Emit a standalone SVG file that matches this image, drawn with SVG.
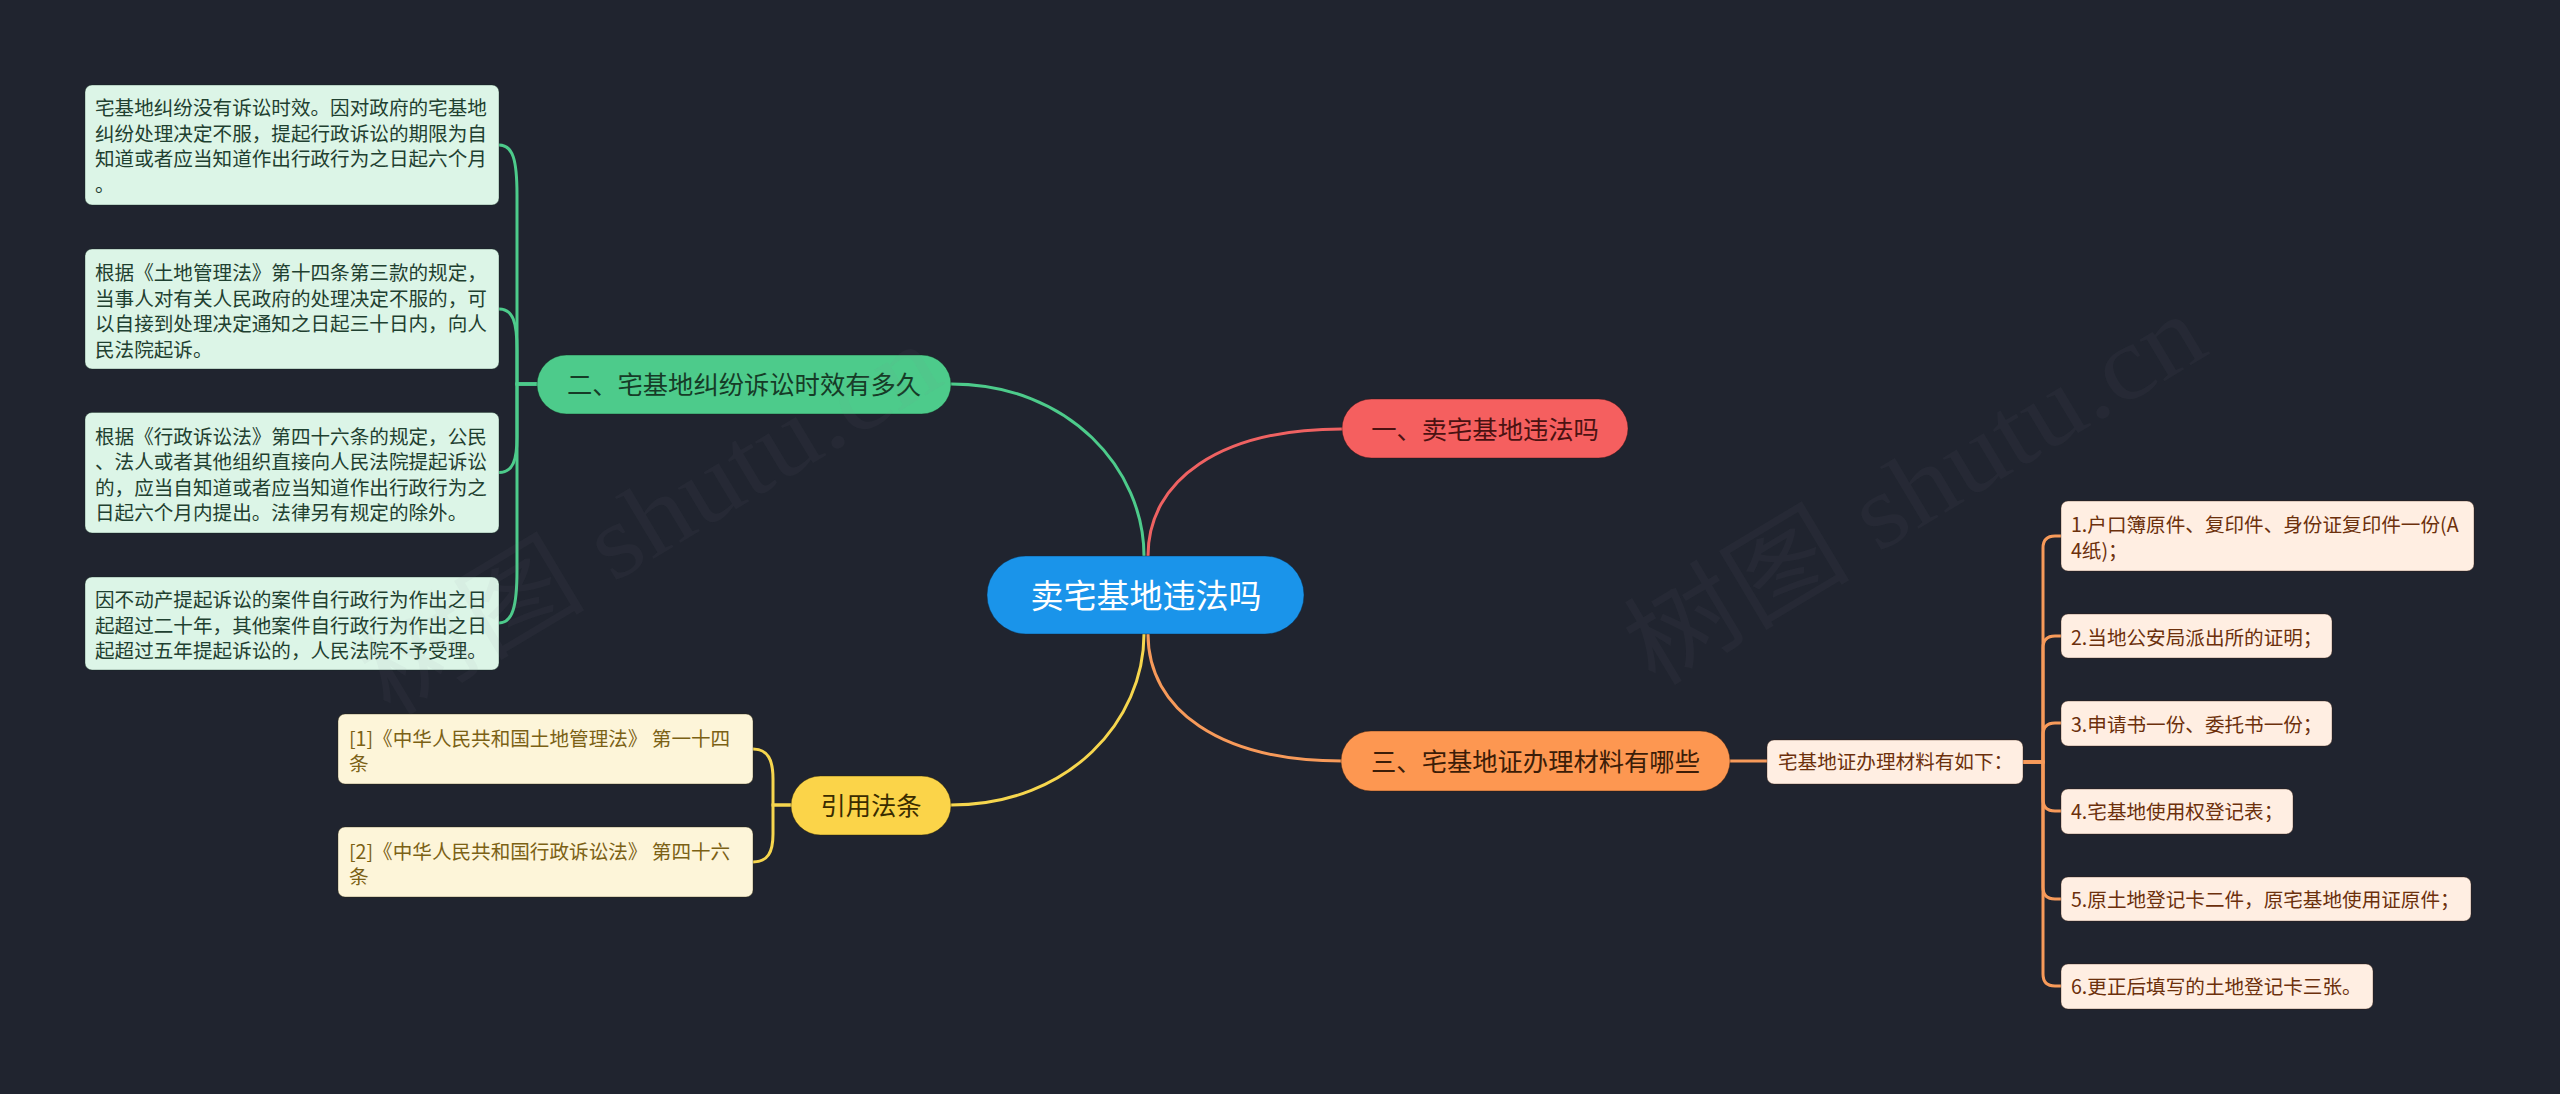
<svg xmlns="http://www.w3.org/2000/svg" width="2560" height="1094" viewBox="0 0 2560 1094">
<defs>
<style>
text{font-family:"Noto Sans CJK SC","Noto Sans",sans-serif;}
.wm{font-family:"Liberation Serif","Noto Sans CJK SC",serif;font-size:105px;fill:#8a8f9c;fill-opacity:0.06;}
.lf{font-size:19.6px;}
.gl rect{fill:#dcf5e7;stroke:#0f2a1c;stroke-opacity:0.35;stroke-width:1;}
.gl text{fill:#1f4030;}
.yl rect{fill:#fdf5d9;stroke:#2a2200;stroke-opacity:0.35;stroke-width:1;}
.yl text{fill:#7b6115;}
.ol rect{fill:#ffeee2;stroke:#3a1a05;stroke-opacity:0.35;stroke-width:1;}
.ol text{fill:#6c300c;}
.mn{font-size:25.3px;text-anchor:middle;}
.c path{fill:none;stroke-width:3;stroke-linecap:round;}
.cg{stroke:#4dcb8b;}
.cr{stroke:#ef6262;}
.cy{stroke:#f6d64e;}
.co{stroke:#f79a5a;}
</style>
</defs>
<rect x="0" y="0" width="2560" height="1094" fill="#20242f"/>

<g id="connectors" class="c">
<path class="cg" d="M1144 556 C1144 470 1070 384 951 384"/>
<path class="cr" d="M1148 556 C1148 480 1220 429 1342 429"/>
<path class="cy" d="M1144 634 C1144 720 1070 805 951 805"/>
<path class="co" d="M1148 634 C1148 710 1220 761 1342 761"/>
<path class="cg" d="M537 384 H517 V195 C517 160 513 145 499 145"/>
<path class="cg" d="M537 384 H517 V350 C517 322 513 309 499 309"/>
<path class="cg" d="M537 384 H517 V437 C517 460 513 472.5 499 472.5"/>
<path class="cg" d="M537 384 H517 V570 C517 605 513 623 499 623"/>
<path class="cy" d="M791 805 H773 V779 C773 760 768 749 753 749"/>
<path class="cy" d="M791 805 H773 V834 C773 852 768 862 753 862"/>
<path class="co" d="M1730 761 H1767"/>
<path class="co" d="M2023 762 H2043 V548 Q2043 536 2055 536 H2061"/>
<path class="co" d="M2023 762 H2043 V648 Q2043 636 2055 636 H2061"/>
<path class="co" d="M2023 762 H2043 V735 Q2043 723 2055 723 H2061"/>
<path class="co" d="M2023 762 H2043 V799 Q2043 811 2055 811 H2061"/>
<path class="co" d="M2023 762 H2043 V887 Q2043 899 2055 899 H2061"/>
<path class="co" d="M2023 762 H2043 V974 Q2043 986 2055 986 H2061"/>
</g>

<g id="root">
<rect x="987" y="556" width="317" height="78" rx="39" fill="#1a94ea" stroke="#0a2a45" stroke-opacity="0.4" stroke-width="1"/>
<text x="1146" y="607.5" font-size="33px" text-anchor="middle" fill="#ffffff">卖宅基地违法吗</text>
</g>

<g id="n1">
<rect x="1342" y="399" width="286" height="59" rx="29.5" fill="#f55f5f" stroke="#3a0f0f" stroke-opacity="0.4" stroke-width="1"/>
<text class="mn" x="1485" y="438.6" fill="#4b1212">一、卖宅基地违法吗</text>
</g>

<g id="n2">
<rect x="537" y="355" width="414" height="59" rx="29.5" fill="#4dcb8b" stroke="#0f2a1c" stroke-opacity="0.4" stroke-width="1"/>
<text class="mn" x="744" y="394" fill="#163b27">二、宅基地纠纷诉讼时效有多久</text>
</g>

<g id="n3">
<rect x="1341" y="731" width="389" height="60" rx="30" fill="#fd9751" stroke="#3a1a05" stroke-opacity="0.4" stroke-width="1"/>
<text class="mn" x="1535.5" y="770.6" fill="#3c1d08">三、宅基地证办理材料有哪些</text>
</g>

<g id="n4">
<rect x="791" y="776" width="160" height="59" rx="29.5" fill="#fbd449" stroke="#2a2200" stroke-opacity="0.4" stroke-width="1"/>
<text class="mn" x="871" y="815" fill="#3a2c00">引用法条</text>
</g>

<g id="g1" class="gl">
<rect x="85" y="85" width="414" height="120" rx="7"/>
<text class="lf" x="95" y="115">宅基地纠纷没有诉讼时效。因对政府的宅基地</text>
<text class="lf" x="95" y="140.5">纠纷处理决定不服，提起行政诉讼的期限为自</text>
<text class="lf" x="95" y="166">知道或者应当知道作出行政行为之日起六个月</text>
<text class="lf" x="95" y="191.5">。</text>
</g>
<g id="g2" class="gl">
<rect x="85" y="249" width="414" height="120" rx="7"/>
<text class="lf" x="95" y="280">根据《土地管理法》第十四条第三款的规定，</text>
<text class="lf" x="95" y="305.5">当事人对有关人民政府的处理决定不服的，可</text>
<text class="lf" x="95" y="331">以自接到处理决定通知之日起三十日内，向人</text>
<text class="lf" x="95" y="356.5">民法院起诉。</text>
</g>
<g id="g3" class="gl">
<rect x="85" y="412.5" width="414" height="120.5" rx="7"/>
<text class="lf" x="95" y="443.6">根据《行政诉讼法》第四十六条的规定，公民</text>
<text class="lf" x="95" y="469">、法人或者其他组织直接向人民法院提起诉讼</text>
<text class="lf" x="95" y="494.5">的，应当自知道或者应当知道作出行政行为之</text>
<text class="lf" x="95" y="520">日起六个月内提出。法律另有规定的除外。</text>
</g>
<g id="g4" class="gl">
<rect x="85" y="577" width="414" height="93" rx="7"/>
<text class="lf" x="95" y="607">因不动产提起诉讼的案件自行政行为作出之日</text>
<text class="lf" x="95" y="632.5">起超过二十年，其他案件自行政行为作出之日</text>
<text class="lf" x="95" y="658">起超过五年提起诉讼的，人民法院不予受理。</text>
</g>

<g id="y1" class="yl">
<rect x="338" y="714" width="415" height="70" rx="7"/>
<text class="lf" x="349" y="746">[1]《中华人民共和国土地管理法》 第一十四</text>
<text class="lf" x="349" y="771">条</text>
</g>
<g id="y2" class="yl">
<rect x="338" y="827" width="415" height="70" rx="7"/>
<text class="lf" x="349" y="859">[2]《中华人民共和国行政诉讼法》 第四十六</text>
<text class="lf" x="349" y="884">条</text>
</g>

<g id="o0" class="ol">
<rect x="1767" y="740" width="256" height="44" rx="7"/>
<text class="lf" x="1778" y="769">宅基地证办理材料有如下：</text>
</g>
<g id="o1" class="ol">
<rect x="2061" y="501" width="413" height="70" rx="7"/>
<text class="lf" x="2071" y="532">1.户口簿原件、复印件、身份证复印件一份(A</text>
<text class="lf" x="2071" y="558">4纸)；</text>
</g>
<g id="o2" class="ol">
<rect x="2061" y="614" width="271" height="44" rx="7"/>
<text class="lf" x="2071" y="645">2.当地公安局派出所的证明；</text>
</g>
<g id="o3" class="ol">
<rect x="2061" y="701" width="271" height="45" rx="7"/>
<text class="lf" x="2071" y="732">3.申请书一份、委托书一份；</text>
</g>
<g id="o4" class="ol">
<rect x="2061" y="789" width="232" height="45" rx="7"/>
<text class="lf" x="2071" y="819">4.宅基地使用权登记表；</text>
</g>
<g id="o5" class="ol">
<rect x="2061" y="877" width="410" height="44" rx="7"/>
<text class="lf" x="2071" y="907">5.原土地登记卡二件，原宅基地使用证原件；</text>
</g>
<g id="o6" class="ol">
<rect x="2061" y="964" width="312" height="45" rx="7"/>
<text class="lf" x="2071" y="994">6.更正后填写的土地登记卡三张。</text>
</g>

<g id="watermarks">
<text class="wm" x="650" y="555" text-anchor="middle" transform="rotate(-31 650 520)" textLength="650" lengthAdjust="spacingAndGlyphs">树图 shutu.cn</text>
<text class="wm" x="1915" y="525" text-anchor="middle" transform="rotate(-31 1915 490)" textLength="650" lengthAdjust="spacingAndGlyphs">树图 shutu.cn</text>
</g>
</svg>
